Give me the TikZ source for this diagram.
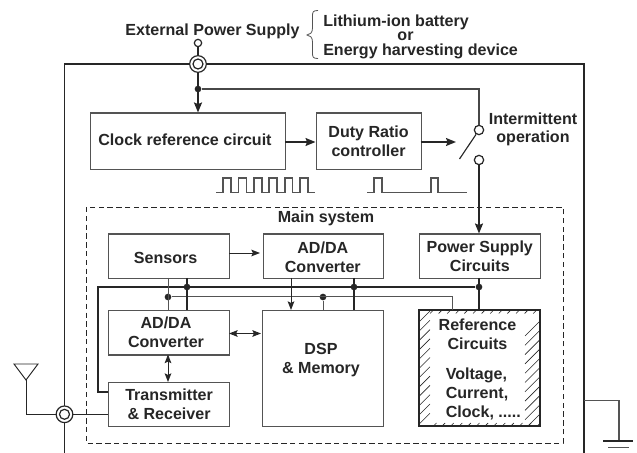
\documentclass[tikz,border=0pt]{standalone}
\usepackage{fontspec}
\setmainfont{Liberation Sans}
\usetikzlibrary{arrows.meta}
\definecolor{ink}{gray}{0.15}
\definecolor{boxline}{gray}{0.33}
\tikzset{
  txt/.style={font=\fontsize{12.05}{14.2}\selectfont\bfseries,text=ink,align=center,inner sep=0pt},
  blockbox/.style={draw=boxline,line width=0.85pt,fill=white,txt},
  wire/.style={draw=ink,line width=0.7pt},
  thinwire/.style={draw=boxline,line width=0.75pt},
  thickwire/.style={draw=ink,line width=1.25pt},
  arrowhead/.style={-{Stealth[length=7.5pt,width=6pt,inset=1.2pt]}},
  smallhead/.style={-{Stealth[length=6.5pt,width=5pt,inset=1.2pt]}},
  twohead/.style={{Stealth[length=6.5pt,width=5pt,inset=1.2pt]}-{Stealth[length=6.5pt,width=5pt,inset=1.2pt]}},
  dotnode/.style={circle,fill=ink,inner sep=0pt,minimum size=5pt},
  termouter/.style={circle,draw=ink,fill=white,line width=0.9pt,minimum size=12.5pt,inner sep=0pt},
  terminner/.style={circle,draw=ink,fill=white,line width=0.9pt,minimum size=7.5pt,inner sep=0pt},
  smallcirc/.style={circle,draw=ink,fill=white,line width=0.9pt,minimum size=5.5pt,inner sep=0pt},
  hatchline/.style={draw=ink,line width=0.45pt},
  wave/.style={draw=boxline,line width=0.8pt},
}
\newcommand{\boxat}[5]{\node[blockbox,minimum width=#3*0.75pt,minimum height=#4*0.75pt,anchor=north west] (#1) at (#2) {#5};}
\begin{document}
\begin{tikzpicture}[x=0.75pt,y=-0.75pt]
\useasboundingbox (0,0) rectangle (637,453);
% outer frame
\coordinate (oBL) at (64.5,453);
\coordinate (oTL) at (64.5,64);
\coordinate (oTR) at (584,64);
\coordinate (oBR) at (584,453);
\draw[draw=ink,line width=1.1pt] (oBL) -- (oTL) -- (oTR) -- (oBR);
% dashed
\draw[draw=ink,line width=0.7pt,dash pattern=on 4pt off 2.6pt] (86,207) rectangle (563,443);
\node[txt] (mainsys) at (326,218) {Main system};
% top texts
\node[txt] (ext) at (212.5,31.5) {External Power Supply};
\node[txt,anchor=west] (li) at (323,22.5) {Lithium-ion battery};
\node[txt] (orword) at (405.5,36.5) {or};
\node[txt,anchor=west] (eh) at (323,51.5) {Energy harvesting device};
\draw[draw=boxline,line width=0.6pt] (318,10.5) .. controls (313,10.5) and (312.5,12) .. (312.5,16) -- (312.5,28) .. controls (312.5,33) and (310,34.5) .. (307,35) .. controls (310,35.5) and (312.5,37) .. (312.5,42) -- (312.5,53) .. controls (312.5,57) and (313,58.5) .. (318,58.5);
% blocks
\boxat{clock}{90,112.5}{195}{56.5}{}
\node[txt] (clocktext) at (185,140) {Clock reference circuit};
\boxat{duty}{315.5,112.5}{105}{56.5}{Duty Ratio\\controller}
\boxat{sensors}{108,233.5}{121}{44.5}{}
\node[txt] (sensorstext) at (165.7,257.5) {Sensors};
\boxat{adtop}{262.5,233.5}{120}{44.5}{}
\node[txt] (adtoptext) at (322.8,257) {AD/DA\\Converter};
\boxat{power}{419,233.5}{120.5}{44.5}{Power Supply\\Circuits}
\boxat{adleft}{108,310}{121}{44.5}{}
\node[txt] (adlefttext) at (166,332.7) {AD/DA\\Converter};
\boxat{trans}{108,382}{121}{44}{Transmitter\\\& Receiver}
\boxat{dsp}{261.5,310}{121}{116}{}
\node[txt] (dsptext) at (321,360) {DSP\\\& Memory};
% reference, hatched
\coordinate (rTL) at (419,310);
\coordinate (rBR) at (540,426);
\begin{scope}
\clip (rTL) rectangle (rBR);
% left strip
\foreach \k in {0,...,11}{
  \draw[hatchline] (419,322+\k*9.3) -- ++(11,-11);
}
% right strip
\foreach \k in {0,...,11}{
  \draw[hatchline] (525,336+\k*9.3) -- ++(15,-15);
}
% top and bottom ticks
\foreach \k in {0,...,12}{
  \draw[hatchline] (430+\k*8.6,313.5) -- ++(4,-4);
}
\foreach \k in {0,...,11}{
  \draw[hatchline] (433+\k*8.6,426.5) -- ++(3.5,-3.5);
}
\end{scope}
\draw[draw=ink,line width=1.25pt] (rTL) rectangle (rBR);
\node[txt] (reftext) at (477.5,334) {Reference\\Circuits};
\node[txt,align=left,anchor=west] (refvals) at (445.5,394) {Voltage,\\Current,\\Clock, .....};
% power entry
\node[termouter] (t1) at (198,64) {};
\node[terminner] (t1i) at (198,64) {};
\node[smallcirc] (s1) at (198,43) {};
\draw[draw=ink,line width=1pt] (s1) -- (t1);
\node[dotnode] (d1) at (198,89) {};
\coordinate (clocktop) at (198,112.5);
\draw[draw=ink,line width=1.4pt,arrowhead] (t1) -- (clocktop);
\node[smallcirc,minimum size=7pt] (swT) at (479,130) {};
\node[smallcirc,minimum size=7pt] (swB) at (479,160) {};
\coordinate (corner) at (479,89);
\draw[draw=ink!85!white,line width=0.95pt] (d1) -- (corner) -- (swT);
\coordinate (blade) at (459.5,159);
\draw[draw=ink,line width=0.85pt] (swT) -- (blade);
\coordinate (powertop) at (479,233.5);
\draw[draw=ink,line width=1.2pt,arrowhead] (swB) -- (powertop);
\coordinate (clockout) at (285,142);
\coordinate (dutyin) at (315.5,142);
\draw[draw=ink,line width=1.1pt,arrowhead] (clockout) -- (dutyin);
\coordinate (dutyout) at (420.5,142);
\coordinate (swin) at (456,142);
\draw[draw=ink,line width=1.1pt,arrowhead] (dutyout) -- (swin);
\node[txt,font=\fontsize{12.05}{13.1}\selectfont\bfseries] (inter) at (533,129.5) {Intermittent\\operation};
% waveforms
\draw[wave] (216,192.8) -- (223,192.8) -- (223,178) -- (231,178) -- (231,192.8) -- (238.5,192.8) -- (238.5,178) -- (246.5,178) -- (246.5,192.8) -- (254,192.8) -- (254,178) -- (262,178) -- (262,192.8) -- (269,192.8) -- (269,178) -- (277,178) -- (277,192.8) -- (285,192.8) -- (285,178) -- (292.5,178) -- (292.5,192.8) -- (300,192.8) -- (300,178) -- (308,178) -- (308,192.8) -- (315,192.8);
\draw[wave] (367,192.8) -- (374,192.8) -- (374,178) -- (382,178) -- (382,192.8) -- (431,192.8) -- (431,178) -- (438,178) -- (438,192.8) -- (467,192.8);
% bus
\coordinate (transL) at (108,392);
\coordinate (busL) at (98,392);
\coordinate (busTL) at (98,287);
\node[dotnode] (d187) at (187,287) {};
\node[dotnode] (d354) at (354,287) {};
\node[dotnode] (d479) at (479,287) {};
\node[dotnode] (d168) at (168,297) {};
\node[dotnode] (d323) at (323,297) {};
\coordinate (tapR) at (452.7,297);
\coordinate (tapRb) at (452.7,310);
\draw[thickwire] (transL) -- (busL) -- (busTL) -- (d479);
\draw[thinwire] (d168) -- (tapR) -- (tapRb);
\draw[thinwire] (168,278) -- (168,310);
\draw[thickwire,line width=1.1pt] (187,278) -- (187,310);
\draw[thickwire,line width=1.1pt] (354,278) -- (354,310);
\draw[thickwire] (479,278) -- (479,310);
\draw[thinwire] (d323) -- (323,310);
\draw[wire,smallhead] (291,278) -- (291,310);
\draw[wire,smallhead] (229,253) -- (260,253);
\draw[wire,twohead] (229,333.5) -- (261,333.5);
\draw[wire,twohead] (168,354.5) -- (168,382);
% antenna
\node[termouter] (t2) at (64.5,414.3) {};
\node[terminner] (t2i) at (64.5,414.3) {};
\draw[wire] (t2) -- (trans.west|-t2);
\coordinate (antbase) at (26,380);
\draw[wire] (t2) -- (26,414.3) -- (antbase);
\draw[wire,line join=miter] (14,364) -- (38,364) -- (antbase) -- cycle;
% ground
\coordinate (gndstart) at (584,400.7);
\coordinate (gndcorner) at (619,400.7);
\coordinate (gndbot) at (619,441);
\draw[draw=boxline,line width=0.9pt] (gndstart) -- (gndcorner) -- (gndbot);
\draw[draw=ink,line width=0.8pt] (603,441) -- (633,441);
\draw[draw=boxline,line width=0.9pt] (608,447.7) -- (629,447.7);
\end{tikzpicture}
\end{document}
